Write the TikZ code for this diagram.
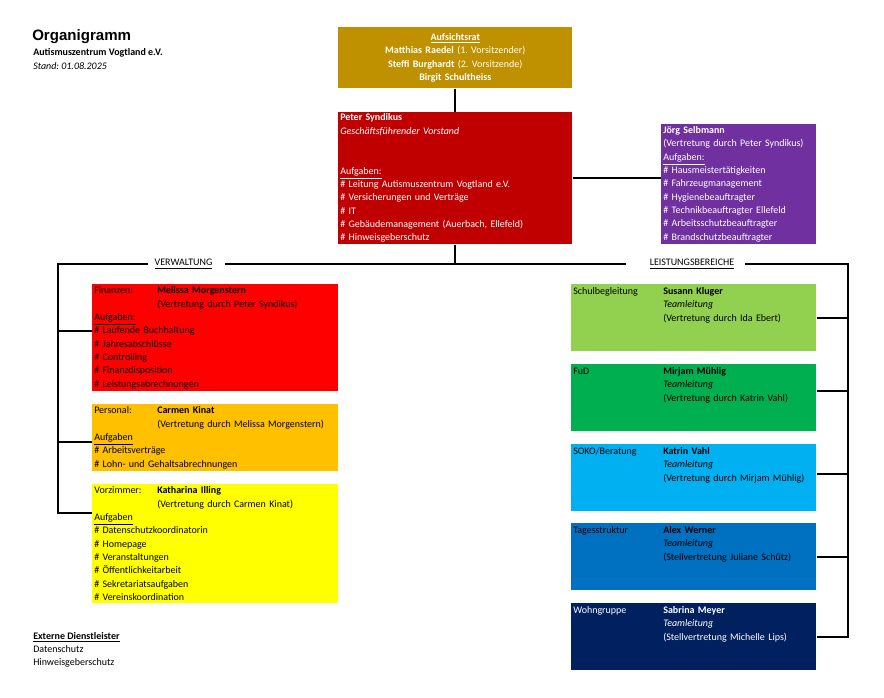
\documentclass[tikz,border=0pt]{standalone}
\usepackage{fontspec}
\setmainfont{Carlito}
\newfontfamily\titlefont{Liberation Sans}
\frenchspacing
\definecolor{aufsicht}{HTML}{BF9000}
\definecolor{vorstand}{HTML}{C00000}
\definecolor{haus}{HTML}{7030A0}
\definecolor{finanz}{HTML}{FF0000}
\definecolor{personal}{HTML}{FFC000}
\definecolor{vorzimmer}{HTML}{FFFF00}
\definecolor{schul}{HTML}{92D050}
\definecolor{fud}{HTML}{00B050}
\definecolor{soko}{HTML}{00B0F0}
\definecolor{tages}{HTML}{0070C0}
\definecolor{wohn}{HTML}{002060}
\tikzstyle{unit}=[anchor=north west, inner xsep=1.5pt, inner ysep=0pt, align=left, font=\fontsize{7.5}{10}\selectfont]
\tikzstyle{leftunit}=[unit, text width=181.5pt]
\tikzstyle{rightunit}=[unit, text width=180.75pt, minimum height=50.25pt]
\tikzstyle{conn}=[line width=1.4pt]
\tikzstyle{plain}=[inner sep=0pt, font=\fontsize{7.5}{10}\selectfont]

\begin{document}
\begin{tikzpicture}[x=0.75pt, y=-0.75pt]
\useasboundingbox (0,0) rectangle (884,697);
\node[plain, anchor=west, font=\titlefont\bfseries\fontsize{11.3}{13}\selectfont] at (32, 37) (title) {Organigramm};
\node[plain, anchor=west] at (33, 53) (verein) {\textbf{Autismuszentrum Vogtland e.V.}};
\node[plain, anchor=west] at (33, 66) (stand) {\textit{Stand: 01.08.2025}};

\node[unit, fill=aufsicht, text=white, align=center, text width=172.5pt, minimum height=45.75pt] at (338, 27) (auf)
  {\underline{\textbf{Aufsichtsrat}}\\ \textbf{Matthias Raedel} (1. Vorsitzender)\\ \textbf{Steffi Burghardt} (2. Vorsitzende)\\ \textbf{Birgit Schultheiss}};
\node[unit, fill=vorstand, text=white, text width=172.5pt, minimum height=99pt] at (338, 112) (pet)
  {\textbf{Peter Syndikus}\\ \textit{Geschäftsführender Vorstand}\\ \mbox{}\\ \mbox{}\\ \underline{Aufgaben:}\\
   \# Leitung Autismuszentrum Vogtland e.V.\\ \# Versicherungen und Verträge\\ \# IT\\
   \# Gebäudemanagement (Auerbach, Ellefeld)\\ \# Hinweisgeberschutz};
\node[unit, fill=haus, text=white, text width=113.25pt, minimum height=90pt] at (661, 124) (jor)
  {\textbf{Jörg Selbmann}\\ (Vertretung durch Peter Syndikus)\\ \underline{Aufgaben:}\\ \# Hausmeistertätigkeiten\\
   \# Fahrzeugmanagement\\ \# Hygienebeauftragter\\ \# Technikbeauftragter Ellefeld\\
   \# Arbeitsschutzbeauftragter\\ \# Brandschutzbeauftragter};

\node[plain] at (183.5, 264) (vw) {\underline{VERWALTUNG}};
\node[plain] at (692, 264) (lb) {\underline{LEISTUNGSBEREICHE}};
\coordinate (trL) at (58, 264);
\coordinate (trR) at (848, 264);

\node[leftunit, fill=finanz, minimum height=80.25pt] at (92, 284) (fin)
  {\makebox[47.25pt][l]{Finanzen:}\textbf{Melissa Morgenstern}\\ \hspace*{47.25pt}(Vertretung durch Peter Syndikus)\\
   \underline{Aufgaben:}\\ \# Laufende Buchhaltung\\ \# Jahresabschlüsse\\ \# Controlling\\
   \# Finanzdisposition\\ \# Leistungsabrechnungen};
\node[leftunit, fill=personal, minimum height=50.25pt] at (92, 404) (pers)
  {\makebox[47.25pt][l]{Personal:}\textbf{Carmen Kinat}\\ \hspace*{47.25pt}(Vertretung durch Melissa Morgenstern)\\
   \underline{Aufgaben}\\ \# Arbeitsverträge\\ \# Lohn- und Gehaltsabrechnungen};
\node[leftunit, fill=vorzimmer, minimum height=89.25pt] at (92, 484) (vor)
  {\makebox[47.25pt][l]{Vorzimmer:}\textbf{Katharina Illing}\\ \hspace*{47.25pt}(Vertretung durch Carmen Kinat)\\
   \underline{Aufgaben}\\ \# Datenschutzkoordinatorin\\ \# Homepage\\ \# Veranstaltungen\\
   \# Öffentlichkeitarbeit\\ \# Sekretariatsaufgaben\\ \# Vereinskoordination};

\node[rightunit, fill=schul] at (571, 284) (schul)
  {\makebox[67.5pt][l]{Schulbegleitung}\textbf{Susann Kluger}\\ \hspace*{67.5pt}\textit{Teamleitung}\\
   \hspace*{67.5pt}(Vertretung durch Ida Ebert)\\ \mbox{}\\ \mbox{}};
\node[rightunit, fill=fud] at (571, 364) (fud)
  {\makebox[67.5pt][l]{FuD}\textbf{Mirjam Mühlig}\\ \hspace*{67.5pt}\textit{Teamleitung}\\
   \hspace*{67.5pt}(Vertretung durch Katrin Vahl)\\ \mbox{}\\ \mbox{}};
\node[rightunit, fill=soko] at (571, 444) (soko)
  {\makebox[67.5pt][l]{SOKO/Beratung}\textbf{Katrin Vahl}\\ \hspace*{67.5pt}\textit{Teamleitung}\\
   \hspace*{67.5pt}(Vertretung durch Mirjam Mühlig)\\ \mbox{}\\ \mbox{}};
\node[rightunit, fill=tages] at (571, 523) (tages)
  {\makebox[67.5pt][l]{Tagesstruktur}\textbf{Alex Werner}\\ \hspace*{67.5pt}\textit{Teamleitung}\\
   \hspace*{67.5pt}(Stellvertretung Juliane Schütz)\\ \mbox{}\\ \mbox{}};
\node[rightunit, fill=wohn, text=white] at (571, 603) (wohn)
  {\makebox[67.5pt][l]{Wohngruppe}\textbf{Sabrina Meyer}\\ \hspace*{67.5pt}\textit{Teamleitung}\\
   \hspace*{67.5pt}(Stellvertretung Michelle Lips)\\ \mbox{}\\ \mbox{}};

\node[plain, anchor=north west, align=left] at (33, 632) (ext)
  {\underline{\textbf{Externe Dienstleister}}\\ Datenschutz\\ Hinweisgeberschutz};

\draw[conn] (auf.south) -- (pet.north);
\draw[conn] (pet.east) -- (pet.east -| jor.west);
\draw[conn] (pet.south) -- (pet.south |- vw.east);
\draw[conn] ([xshift=9pt]vw.east) -- ([xshift=-18pt]lb.west);
\draw[conn] ([xshift=-4.5pt]vw.west) -- (trL) |- ([yshift=22.9pt]vor.west);
\draw[conn] ([yshift=4.9pt]fin.west) -| (trL);
\draw[conn] ([yshift=-3.4pt]pers.west) -| (trL);
\draw[conn] ([xshift=8.25pt]lb.east) -- (trR) |- (wohn.east);
\draw[conn] (schul.east) -| (trR);
\draw[conn] ([yshift=4.9pt]fud.east) -| (trR);
\draw[conn] ([yshift=2.6pt]soko.east) -| (trR);
\draw[conn] (tages.east) -| (trR);
\end{tikzpicture}
\end{document}
